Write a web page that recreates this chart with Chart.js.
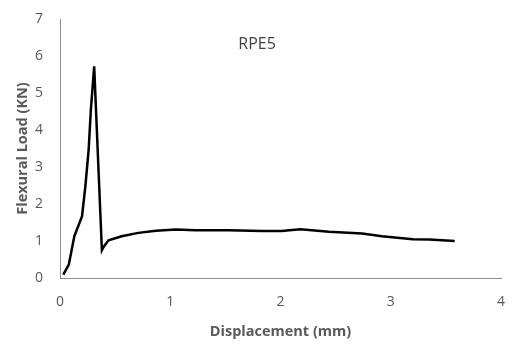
<!DOCTYPE html>
<html>
<head>
<meta charset="utf-8">
<script src="https://cdn.jsdelivr.net/npm/chart.js@4/dist/chart.umd.min.js"></script>
<style>
  html, body { margin: 0; padding: 0; background: #fff; }
  #wrap { width: 513px; height: 356px; }
</style>
</head>
<body>
<div id="wrap"><canvas id="myChart"></canvas></div>
<script>
let displacement = [0.03, 0.08, 0.13, 0.20, 0.23, 0.26, 0.28, 0.31, 0.38, 0.40, 0.44, 0.56, 0.71, 0.87, 1.05, 1.23, 1.53, 1.83, 2.01, 2.18, 2.44, 2.74, 2.92, 3.20, 3.35, 3.58];
let load = [0.09, 0.36, 1.13, 1.67, 2.48, 3.47, 4.55, 5.72, 0.75, 0.86, 1.02, 1.13, 1.22, 1.28, 1.31, 1.29, 1.29, 1.27, 1.27, 1.32, 1.25, 1.20, 1.13, 1.05, 1.04, 1.00];
let xTicks = [0, 1, 2, 3, 4];
let yTicks = [0, 1, 2, 3, 4, 5, 6, 7];
let seriesName = "RPE5";

let points = displacement.map(function (d, i) {
    return { x: d, y: load[i] };
});

// draws the series name inside the plot, like the original
const innerTitle = {
    id: "innerTitle",
    afterDraw(chart) {
        const ctx = chart.ctx;
        const area = chart.chartArea;
        ctx.save();
        ctx.font = "16px 'Open Sans'";
        ctx.fillStyle = "#404040";
        ctx.textAlign = "center";
        ctx.textBaseline = "middle";
        ctx.fillText(seriesName, area.left + (area.right - area.left) * 0.447, area.top + 25);
        ctx.restore();
    }
};

let flexChart = new Chart("myChart", {
    type: "scatter",
    data: {
        datasets: [{
            label: seriesName,
            data: points,
            showLine: true,
            borderColor: "#000",
            borderWidth: 2.5,
            pointRadius: 0,
            tension: 0
        }]
    },
    options: {
        responsive: true,
        maintainAspectRatio: false,
        animation: false,
        layout: { padding: { top: 19, right: 12, bottom: 11, left: 10 } },
        plugins: {
            legend: { display: false },
            title: { display: false },
            tooltip: { enabled: false }
        },
        scales: {
            x: {
                min: 0,
                max: 4,
                afterBuildTicks: function (axis) {
                    axis.ticks = xTicks.map(function (v) { return { value: v }; });
                },
                afterFit: function (axis) { axis.height = 67; axis.paddingLeft = 0; axis.paddingRight = 0; },
                grid: { display: false, drawTicks: false },
                border: { color: "#8c8c8c", width: 1 },
                ticks: { color: "#595959", font: { family: "Open Sans", size: 14 }, padding: 16 },
                title: {
                    display: true,
                    text: "Displacement (mm)",
                    color: "#595959",
                    font: { family: "Open Sans", size: 14.5, weight: "bold" },
                    padding: { top: 4 }
                }
            },
            y: {
                min: 0,
                max: 7,
                afterBuildTicks: function (axis) {
                    axis.ticks = yTicks.map(function (v) { return { value: v }; });
                },
                afterFit: function (axis) { axis.width = 50; axis.paddingTop = 0; axis.paddingBottom = 0; },
                grid: { display: false, drawTicks: false },
                border: { color: "#8c8c8c", width: 1 },
                ticks: { color: "#595959", font: { family: "Open Sans", size: 14 }, padding: 17 },
                title: {
                    display: true,
                    text: "Flexural Load (KN)",
                    color: "#595959",
                    font: { family: "Open Sans", size: 14.5, weight: "bold" },
                    padding: { bottom: 4 }
                }
            }
        }
    },
    plugins: [innerTitle]
});
</script>
</body>
</html>
